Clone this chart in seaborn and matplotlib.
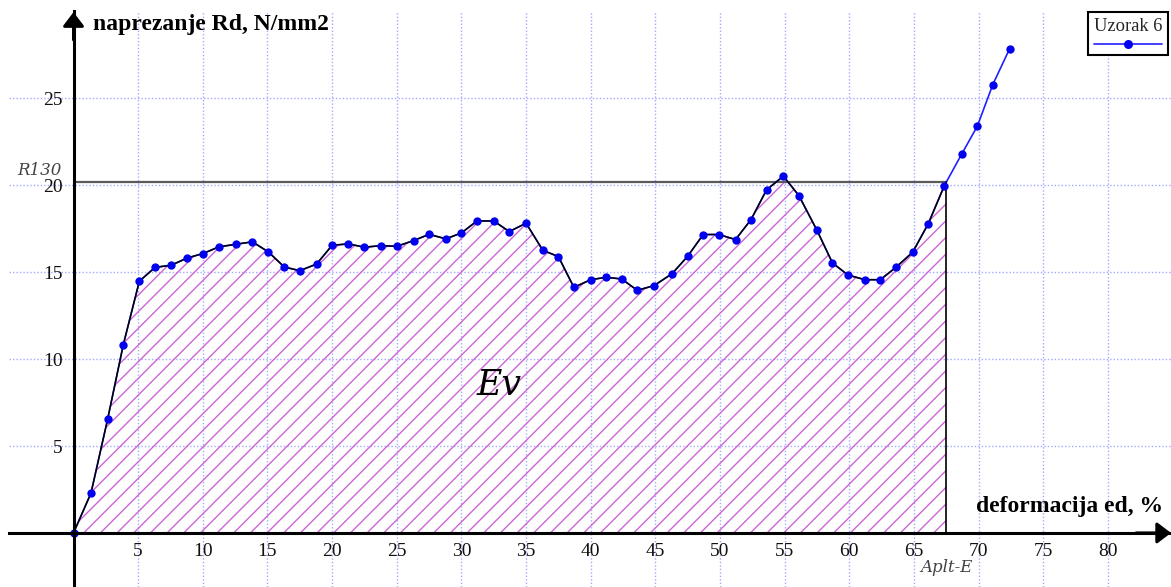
import numpy as np
import pandas as pd
import matplotlib
matplotlib.use("Agg")
import matplotlib.pyplot as plt
from matplotlib.lines import Line2D
import seaborn as sns

# Sample 6: deformation ed (%) vs. stress Rd (N/mm2)
deformacija = [0, 1.35, 2.64, 3.85, 5.09, 6.30, 7.54, 8.80, 9.99, 11.25,
               12.57, 13.83, 15.07, 16.3, 17.5, 18.8, 20.0, 21.25, 22.5, 23.8,
               25.0, 26.3, 27.5, 28.8, 30.0, 31.2, 32.5, 33.7, 35.0, 36.3,
               37.5, 38.7, 40.0, 41.2, 42.4, 43.6, 44.9, 46.3, 47.5, 48.7,
               49.9, 51.2, 52.4, 53.6, 54.9, 56.1, 57.5, 58.7, 59.9, 61.2,
               62.4, 63.6, 64.9, 66.1, 67.35, 68.7, 69.9, 71.1, 72.4]
naprezanje = [0, 2.29, 6.55, 10.83, 14.48, 15.28, 15.4, 15.82, 16.07, 16.46,
              16.61, 16.75, 16.17, 15.3, 15.09, 15.47, 16.55, 16.63, 16.44, 16.53,
              16.49, 16.82, 17.18, 16.92, 17.26, 17.95, 17.95, 17.34, 17.82, 16.26,
              15.9, 14.13, 14.57, 14.71, 14.61, 13.96, 14.23, 14.92, 15.92, 17.17,
              17.17, 16.88, 18.03, 19.74, 20.53, 19.41, 17.41, 15.53, 14.84, 14.57,
              14.57, 15.28, 16.15, 17.78, 19.98, 21.81, 23.40, 25.8, 27.86]
R130 = 20.2
x_ticks = [5, 10, 15, 20, 25, 30, 35, 40, 45, 50, 55, 60, 65, 70, 75, 80]
y_ticks = [5, 10, 15, 20, 25]
serija = "Uzorak 6"
naslov_y = "naprezanje Rd, N/mm2"
naslov_x = "deformacija ed, %"

sns.set_style("white")
plt.rcParams["font.family"] = ["Liberation Serif", "DejaVu Serif"]
plt.rcParams["hatch.linewidth"] = 1.0

W, H = 1171, 587
fig = plt.figure(figsize=(W / 100, H / 100), dpi=100)
ax = fig.add_axes([9 / W, 0, (W - 9) / W, (H - 11) / H])
ax.set_xlim(-4.99, 84.88)
ax.set_ylim(-3.11, 30.03)

df = pd.DataFrame({"ed": deformacija, "Rd": naprezanje})
x = df["ed"].to_numpy()
y = df["Rd"].to_numpy()

# last point where the curve rises through R130 -> end of the energy area
i = np.where((y[:-1] < R130) & (y[1:] >= R130))[0][-1]
x_end = float(np.interp(R130, [y[i], y[i + 1]], [x[i], x[i + 1]]))
x_area = np.append(x[: i + 1], x_end)
y_area = np.append(y[: i + 1], R130)

# hatched energy area Ev
ax.fill_between(x_area, y_area, 0, facecolor="none", edgecolor="#cc66d6",
                hatch="//", linewidth=0, zorder=1)

# full series line
sns.lineplot(data=df, x="ed", y="Rd", ax=ax, color="#2020ff", lw=1.2,
             sort=False, zorder=3, legend=False)
# curve bounding the area
ax.plot(x_area, y_area, color="black", lw=1.1, zorder=4)
# series markers
sns.scatterplot(data=df, x="ed", y="Rd", ax=ax, color="#0000ee", s=36,
                linewidth=0, zorder=5, legend=False)

# R130 level and Aplt-E boundary
ax.plot([0, x_end], [R130, R130], color="#5a5a5a", lw=1.6, zorder=2)
ax.plot([x_end, x_end], [0, R130], color="black", lw=1.2, zorder=2)

# axes through the origin
for side in ("top", "right"):
    ax.spines[side].set_visible(False)
for side in ("left", "bottom"):
    ax.spines[side].set_position(("data", 0))
    ax.spines[side].set_linewidth(2.2)
    ax.spines[side].set_color("black")
    ax.spines[side].set_zorder(6)

arrow = dict(arrowstyle="-|>,head_length=0.42,head_width=0.32", color="black",
             lw=2.2, mutation_scale=20, shrinkA=0, shrinkB=0)
ax.annotate("", xy=(1, 0), xycoords=("axes fraction", "data"),
            xytext=(0.97, 0), textcoords=("axes fraction", "data"),
            arrowprops=arrow, zorder=7)
ax.annotate("", xy=(0, 0.998), xycoords=("data", "axes fraction"),
            xytext=(0, 0.95), textcoords=("data", "axes fraction"),
            arrowprops=arrow, zorder=7)

ax.set_xticks(x_ticks)
ax.set_yticks(y_ticks)
ax.set_xlabel("")
ax.set_ylabel("")
ax.tick_params(axis="x", direction="inout", length=10, width=1.5,
               labelsize=14, pad=2, colors="black", labelcolor="#111111")
ax.tick_params(axis="y", direction="inout", length=14, width=1.5,
               labelsize=14, pad=1, colors="black", labelcolor="#111111")

ax.grid(True, color="#a4a8ff", linestyle=(0, (1, 1.5)), lw=1.0)
ax.set_axisbelow(True)
for gl in ax.get_xgridlines() + ax.get_ygridlines():
    gl.set_zorder(0)

# annotations
ax.text(1.5, 29.23, naslov_y, fontsize=17, fontweight="bold", ha="left",
        va="center", color="black")
ax.text(84.3, 1.55, naslov_x, fontsize=17, fontweight="bold", ha="right",
        va="center", color="black")
ax.text(32.9, 8.5, "Ev", fontsize=25, style="italic", family="DejaVu Serif",
        ha="center", va="center", color="black")
ax.text(-2.67, 20.85, "R130", fontsize=12, style="italic", family="DejaVu Serif",
        ha="center", va="center", color="#444444")
ax.text(x_end, -1.96, "Aplt-E", fontsize=12, style="italic",
        family="DejaVu Serif", ha="center", va="center", color="#444444")

# legend: title above the line sample
handle = Line2D([], [], color="#2020ff", lw=1.2, marker="o", markersize=6.5,
                markerfacecolor="#0000ee", markeredgewidth=0)
leg = ax.legend(handles=[handle], labels=[""], title=serija,
                loc="upper right", bbox_to_anchor=(1168 / W, 1 - 12 / H),
                bbox_transform=fig.transFigure, borderaxespad=0,
                frameon=True, fancybox=False, framealpha=1, edgecolor="black",
                handlelength=6.2, handletextpad=0, borderpad=0.5,
                title_fontsize=13.3, fontsize=8)
leg.get_frame().set_linewidth(1.5)
leg.set_zorder(8)

fig.savefig("out.png", dpi=100)
